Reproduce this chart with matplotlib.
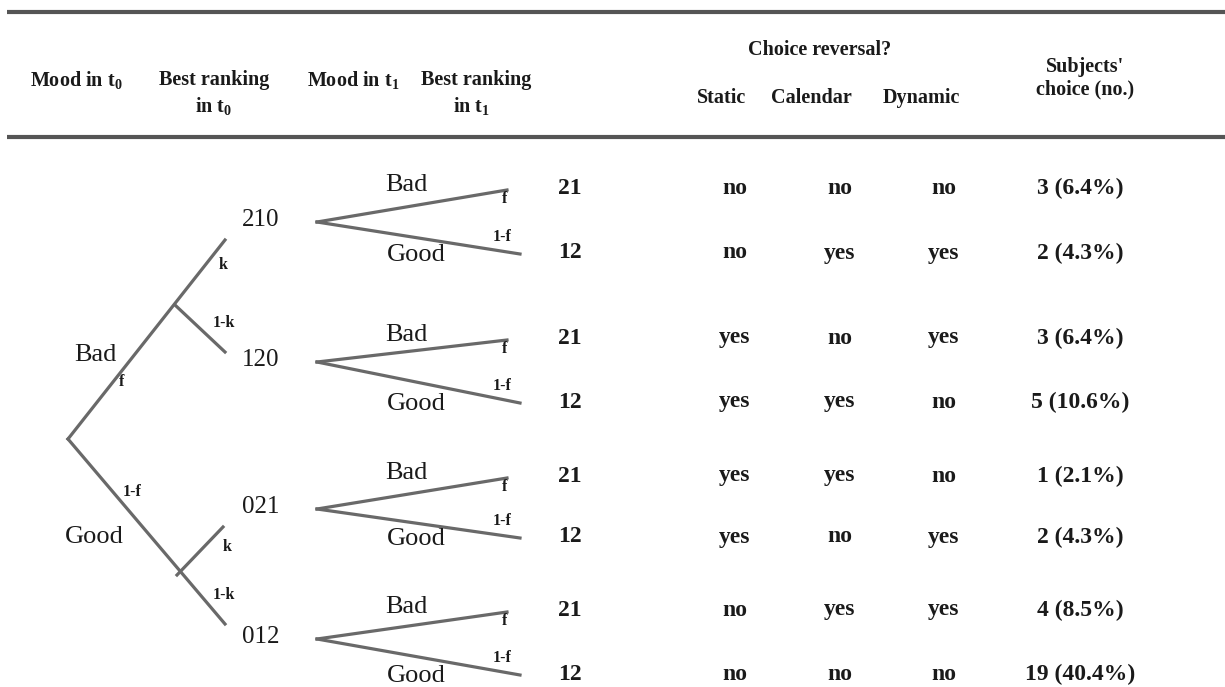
import matplotlib.pyplot as plt

plt.rcParams['font.family'] = ['Liberation Serif', 'DejaVu Serif']
plt.rcParams['mathtext.fontset'] = 'custom'
plt.rcParams['mathtext.rm'] = 'Liberation Serif:bold'
plt.rcParams['mathtext.it'] = 'Liberation Serif:bold'

# table data
moods_t0 = ["Bad", "Good"]
rank_t0 = ["210", "120", "021", "012"]
moods_t1 = ["Bad", "Good"]
rank_t1 = ["21", "12"]
static = ["no", "no", "yes", "yes", "yes", "yes", "no", "no"]
calendar = ["no", "yes", "no", "yes", "yes", "no", "yes", "no"]
dynamic = ["no", "yes", "yes", "no", "no", "yes", "yes", "no"]
choice_n = [3, 2, 3, 5, 1, 2, 4, 19]
choice_pct = [6.4, 4.3, 6.4, 10.6, 2.1, 4.3, 8.5, 40.4]

# layout (pixel coords, y down)
row_y = [188, 253, 338, 402, 476, 537, 610, 674]
node_y = [220, 360, 507, 637]
col_x = [735, 840, 944, 1080]

txt = '#1a1a1a'
lc = '#696969'
hdr = dict(fontsize=14.5, fontweight='bold', color=txt, ha='center', va='center')
val = dict(fontsize=17, fontweight='bold', color=txt, ha='center', va='center')
num = dict(fontsize=18, color=txt, ha='center', va='center')
lab = dict(fontsize=19, color=txt, ha='center', va='center')
small = dict(fontsize=11.5, fontweight='bold', color=txt, ha='center', va='center')

fig = plt.figure(figsize=(12.25, 6.87), dpi=100)
ax = fig.add_axes([0, 0, 1, 1])
ax.set_xlim(0, 1225)
ax.set_ylim(687, 0)
ax.axis('off')

# rules
ax.plot([7, 1225], [12, 12], color='#555555', lw=3, solid_capstyle='butt')
ax.plot([7, 1225], [137, 137], color='#555555', lw=3, solid_capstyle='butt')

# headers
ax.text(76, 80, r"Mood in $\mathrm{t}_0$", **hdr)
ax.text(214, 80, "Best ranking", **hdr)
ax.text(214, 106, r"in $\mathrm{t}_0$", **hdr)
ax.text(353, 80, r"Mood in $\mathrm{t}_1$", **hdr)
ax.text(476, 80, "Best ranking", **hdr)
ax.text(472, 106, r"in $\mathrm{t}_1$", **hdr)
ax.text(820, 50, "Choice reversal?", **hdr)
ax.text(722, 98, "Static", **hdr)
ax.text(811, 98, "Calendar", **hdr)
ax.text(921, 98, "Dynamic", **hdr)
ax.text(1085, 67, "Subjects'", **hdr)
ax.text(1085, 89, "choice (no.)", **hdr)

# first-level tree
root = (68, 439)
ax.plot([root[0], 225], [root[1], 240], color=lc, lw=2.3)
ax.plot([175, 225], [305, 352], color=lc, lw=2.3)
ax.plot([root[0], 225], [root[1], 624], color=lc, lw=2.3)
ax.plot([177, 223], [575, 527], color=lc, lw=2.3)

ax.text(95, 355, moods_t0[0], **lab)
ax.text(122, 382, "f", **small)
ax.text(223, 265, "k", **small)
ax.text(224, 323, "1-k", **small)
ax.text(94, 537, moods_t0[1], **lab)
ax.text(132, 492, "1-f", **small)
ax.text(227, 547, "k", **small)
ax.text(224, 595, "1-k", **small)

# second-level fans
for g in range(4):
    ny = node_y[g]
    r21, r12 = row_y[2 * g], row_y[2 * g + 1]
    ax.text(261, ny, rank_t0[g], **num)
    ax.plot([317, 507], [ny + 2, r21 + 2], color=lc, lw=2.3)
    ax.plot([317, 520], [ny + 2, r12 + 1], color=lc, lw=2.3)
    ax.text(406, r21 - 3, moods_t1[0], **lab)
    ax.text(416, r12 + 2, moods_t1[1], **lab)
    ax.text(505, r21 + 11, "f", **small)
    ax.text(502, r12 - 16, "1-f", **small)
    ax.text(570, r21, rank_t1[0], **val)
    ax.text(570, r12, rank_t1[1], **val)

# right-hand columns
for i, y in enumerate(row_y):
    ax.text(col_x[0], y, static[i], **val)
    ax.text(col_x[1], y, calendar[i], **val)
    ax.text(col_x[2], y, dynamic[i], **val)
    ax.text(col_x[3], y, f"{choice_n[i]} ({choice_pct[i]}%)", **val)

fig.savefig("out.png", dpi=100)
